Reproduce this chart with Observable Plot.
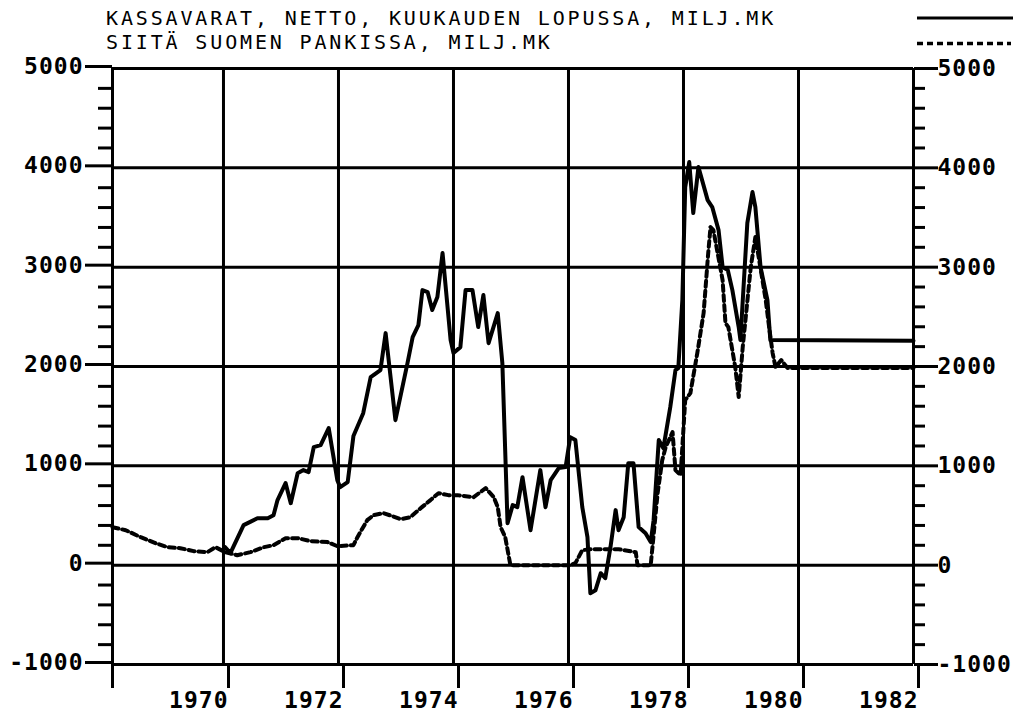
<!DOCTYPE html>
<html>
<head>
<meta charset="utf-8">
<script src="https://cdn.jsdelivr.net/npm/d3@7"></script>
<script src="https://cdn.jsdelivr.net/npm/@observablehq/plot@0.6"></script>
<style>
  html, body { margin: 0; padding: 0; background: white; }
  #wrap { width: 1029px; height: 719px; position: relative; overflow: hidden; background: white; }
  #head { display: block; }
  #chart svg text { letter-spacing: 1px; }
</style>
</head>
<body>
<div id="wrap">
  <svg id="head" width="1029" height="56" xmlns="http://www.w3.org/2000/svg">
    <g font-family="DejaVu Sans Mono" font-size="20" fill="black" style="letter-spacing:2.85px">
      <text id="t1" x="106" y="24.5"></text>
      <text id="t2" x="106" y="48.5"></text>
    </g>
    <line x1="917" x2="1013" y1="18" y2="18" stroke="black" stroke-width="3"/>
    <line x1="917" x2="1011" y1="43.5" y2="43.5" stroke="black" stroke-width="3.5" stroke-dasharray="6,4"/>
  </svg>
  <div id="chart"></div>
</div>
<script>
// ---- Text ----
const titleLine1 = "KASSAVARAT, NETTO, KUUKAUDEN LOPUSSA, MILJ.MK";
const titleLine2 = "SIITÄ SUOMEN PANKISSA, MILJ.MK";

// ---- Ticks ----
const xStart = 1968.07;
const xEnd = 1982;
const xTickYears = [1970, 1972, 1974, 1976, 1978, 1980, 1982];
const xGridYears = [1968.07, 1970, 1972, 1974, 1976, 1978, 1980, 1982];
const yMajorTicks = [-1000, 0, 1000, 2000, 3000, 4000, 5000];
const yMinorTicks = [-800, -600, -400, -200, 200, 400, 600, 800, 1200, 1400, 1600, 1800,
  2200, 2400, 2600, 2800, 3200, 3400, 3600, 3800, 4200, 4400, 4600, 4800];

// ---- Series 1: KASSAVARAT, NETTO (solid) ----
const cashYears = [1970.03, 1970.12, 1970.35, 1970.59, 1970.77, 1970.87, 1970.94, 1971.08, 1971.17, 1971.29,
  1971.39, 1971.48, 1971.57, 1971.69, 1971.83, 1971.98, 1972.03, 1972.16, 1972.26, 1972.43,
  1972.56, 1972.73, 1972.82, 1972.99, 1973.20, 1973.29, 1973.39, 1973.46, 1973.55, 1973.63,
  1973.72, 1973.81, 1973.95, 1974.00, 1974.12, 1974.21, 1974.33, 1974.43, 1974.52, 1974.61,
  1974.77, 1974.85, 1974.94, 1975.03, 1975.11, 1975.20, 1975.34, 1975.51, 1975.60, 1975.69,
  1975.83, 1975.95, 1976.03, 1976.12, 1976.24, 1976.33, 1976.38, 1976.47, 1976.56, 1976.64,
  1976.73, 1976.82, 1976.87, 1976.96, 1977.04, 1977.13, 1977.22, 1977.34, 1977.43, 1977.48,
  1977.57, 1977.65, 1977.77, 1977.86, 1977.91, 1977.98, 1978.03, 1978.10, 1978.17, 1978.26,
  1978.42, 1978.50, 1978.61, 1978.68, 1978.77, 1978.85, 1978.96, 1978.99, 1979.11, 1979.20,
  1979.25, 1979.34, 1979.46, 1979.51, 1982.00];
const cashValues = [181, 121, 403, 473, 473, 503, 655, 826, 624, 926,
  957, 937, 1188, 1208, 1380, 856, 785, 836, 1300, 1530,
  1893, 1964, 2336, 1460, 2034, 2296, 2417, 2769, 2749, 2568,
  2699, 3142, 2266, 2135, 2195, 2769, 2769, 2397, 2719, 2235,
  2538, 2034, 423, 604, 584, 886, 352, 957, 584, 856,
  977, 987, 1289, 1259, 584, 282, -282, -252, -81, -131,
  181, 554, 352, 483, 1027, 1027, 383, 322, 232, 453,
  1259, 1178, 1591, 1963, 1984, 2669, 3806, 4058, 3545, 4008,
  3675, 3605, 3373, 3001, 2971, 2769, 2397, 2266, 3444, 3756,
  3605, 3001, 2669, 2266, 2260];

// ---- Series 2: SIITÄ SUOMEN PANKISSA (dashed) ----
const bankYears = [1968.07, 1968.30, 1968.56, 1968.82, 1969.03, 1969.25, 1969.48, 1969.72, 1969.86, 1970.03,
  1970.24, 1970.47, 1970.70, 1970.87, 1971.08, 1971.29, 1971.51, 1971.81, 1971.98, 1972.26,
  1972.33, 1972.50, 1972.61, 1972.78, 1972.94, 1973.08, 1973.25, 1973.43, 1973.60, 1973.74,
  1973.91, 1974.07, 1974.35, 1974.56, 1974.70, 1974.77, 1974.82, 1974.90, 1974.99, 1976.03,
  1976.12, 1976.24, 1976.38, 1976.87, 1977.17, 1977.20, 1977.43, 1977.46, 1977.55, 1977.63,
  1977.69, 1977.81, 1977.86, 1977.95, 1978.03, 1978.12, 1978.24, 1978.35, 1978.43, 1978.47,
  1978.52, 1978.68, 1978.73, 1978.78, 1978.90, 1978.96, 1979.03, 1979.17, 1979.25, 1979.43,
  1979.48, 1979.55, 1979.60, 1979.70, 1979.81, 1982.00];
const bankValues = [382, 352, 282, 221, 181, 171, 141, 131, 181, 131,
  100, 131, 181, 201, 272, 272, 242, 232, 191, 201,
  282, 453, 503, 524, 493, 463, 483, 574, 655, 725,
  705, 705, 685, 775, 685, 584, 383, 282, 0, 0,
  20, 151, 161, 161, 131, 0, 0, 181, 725, 1057,
  1188, 1339, 957, 906, 1662, 1732, 2135, 2538, 3142, 3404,
  3373, 2870, 2437, 2397, 1994, 1692, 2195, 3001, 3303, 2669,
  2437, 2135, 1994, 2064, 1984, 1984];

document.getElementById("t1").textContent = titleLine1;
document.getElementById("t2").textContent = titleLine2;

const cash = cashYears.map((t, i) => ({t, v: cashValues[i]}));
const bank = bankYears.map((t, i) => ({t, v: bankValues[i]}));
const fmt = d => String(d);

const chart = Plot.plot({
  width: 1029,
  height: 663,
  marginTop: 12,
  marginBottom: 55,
  marginLeft: 112,
  marginRight: 116,
  x: {domain: [xStart, xEnd], label: null},
  y: {domain: [-1000, 5000], label: null},
  style: {
    background: "white",
    color: "black",
    fontFamily: "DejaVu Sans Mono",
    fontSize: "23px",
    fontWeight: "bold",
    overflow: "visible"
  },
  marks: [
    Plot.ruleY(yMajorTicks, {stroke: "black", strokeWidth: 3}),
    Plot.ruleX(xGridYears, {stroke: "black", strokeWidth: 3}),
    Plot.axisY(yMajorTicks, {anchor: "left", tickSize: 27, tickPadding: 2, strokeWidth: 3, dy: -2, tickFormat: fmt, label: null}),
    Plot.axisY(yMinorTicks, {anchor: "left", tickSize: 14, strokeWidth: 3, tickFormat: () => "", label: null}),
    Plot.axisY(yMajorTicks, {anchor: "right", tickSize: 24, tickPadding: 0, strokeWidth: 3, tickFormat: fmt, label: null}),
    Plot.axisY(yMinorTicks, {anchor: "right", tickSize: 11, strokeWidth: 3, tickFormat: () => "", label: null}),
    Plot.axisX(xTickYears, {anchor: "bottom", tickSize: 24, tickPadding: 3, strokeWidth: 3, textAnchor: "end", dx: 5, tickFormat: fmt, label: null}),
    Plot.axisX([xStart], {anchor: "bottom", tickSize: 24, strokeWidth: 3, tickFormat: () => "", label: null}),
    Plot.line(bank, {x: "t", y: "v", stroke: "black", strokeWidth: 4, strokeDasharray: "6,4", strokeLinejoin: "round"}),
    Plot.line(cash, {x: "t", y: "v", stroke: "black", strokeWidth: 4, strokeLinejoin: "round"})
  ]
});
document.getElementById("chart").appendChild(chart);
</script>
</body>
</html>
